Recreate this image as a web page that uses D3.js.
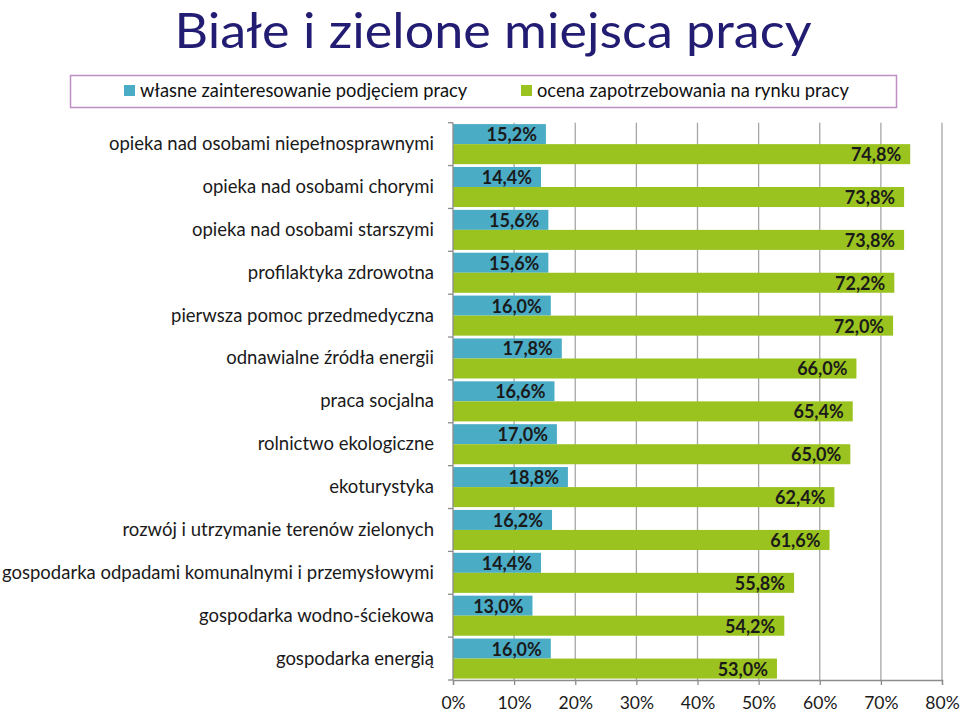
<!DOCTYPE html>
<html>
<head>
<meta charset="utf-8">
<script src="https://cdn.jsdelivr.net/npm/d3@7"></script>
<style>
  body { margin: 0; background: #fff; }
  text { font-family: Lato, "Open Sans", sans-serif; }
</style>
</head>
<body>
<svg id="chart" width="960" height="715"></svg>
<script>
var categories = [
  "opieka nad osobami niepełnosprawnymi",
  "opieka nad osobami chorymi",
  "opieka nad osobami starszymi",
  "profilaktyka zdrowotna",
  "pierwsza pomoc przedmedyczna",
  "odnawialne źródła energii",
  "praca socjalna",
  "rolnictwo ekologiczne",
  "ekoturystyka",
  "rozwój i utrzymanie terenów zielonych",
  "gospodarka odpadami komunalnymi i przemysłowymi",
  "gospodarka wodno-ściekowa",
  "gospodarka energią"
];
var ownInterest = [15.2, 14.4, 15.6, 15.6, 16.0, 17.8, 16.6, 17.0, 18.8, 16.2, 14.4, 13.0, 16.0];
var marketDemand = [74.8, 73.8, 73.8, 72.2, 72.0, 66.0, 65.4, 65.0, 62.4, 61.6, 55.8, 54.2, 53.0];
var seriesNames = ["własne zainteresowanie podjęciem pracy", "ocena zapotrzebowania na rynku pracy"];
var xTicks = [0, 10, 20, 30, 40, 50, 60, 70, 80];

var colors = ["#4bacc6", "#9bc31f"];
var svg = d3.select("#chart");

// title
svg.append("text")
    .attr("x", 493).attr("y", 48)
    .attr("text-anchor", "middle")
    .attr("fill", "#221c72")
    .attr("textLength", 637)
    .attr("lengthAdjust", "spacingAndGlyphs")
    .style("font-size", "48px")
    .text("Białe i zielone miejsca pracy");

// legend
svg.append("rect")
    .attr("x", 70.5).attr("y", 75.5).attr("width", 826).attr("height", 32)
    .attr("fill", "none").attr("stroke", "#c08ec4").attr("stroke-width", 1.5);
var legendX = [124, 521];
seriesNames.forEach(function (name, i) {
  svg.append("rect")
      .attr("x", legendX[i]).attr("y", 85).attr("width", 11).attr("height", 11)
      .attr("fill", colors[i]);
  svg.append("text")
      .attr("x", legendX[i] + 16).attr("y", 97)
      .attr("fill", "#111")
      .style("font-size", "18.3px")
      .text(name);
});

var margin = { left: 453, right: 942, top: 122.7, bottom: 680 };
var x = d3.scaleLinear().domain([0, 80]).range([margin.left, margin.right]);
var y = d3.scaleBand().domain(categories).range([margin.top, margin.bottom]).paddingInner(0).paddingOuter(0);
var inner = d3.scaleBand().domain([0, 1]).range([0, y.bandwidth()]).paddingInner(0).paddingOuter(0.07);

// grid
svg.append("g").selectAll("line")
    .data(xTicks.slice(1))
    .enter().append("line")
    .attr("x1", function (d) { return x(d); })
    .attr("x2", function (d) { return x(d); })
    .attr("y1", margin.top).attr("y2", margin.bottom)
    .attr("stroke", "#a6a6a6").attr("stroke-width", 1.3);

// bars
var groups = svg.append("g").selectAll("g")
    .data(categories)
    .enter().append("g")
    .attr("transform", function (d) { return "translate(0," + y(d) + ")"; });

[ownInterest, marketDemand].forEach(function (vals, s) {
  groups.append("rect")
      .attr("x", x(0))
      .attr("y", inner(s))
      .attr("width", function (d, i) { return x(vals[i]) - x(0); })
      .attr("height", inner.bandwidth())
      .attr("fill", colors[s]);
  groups.append("text")
      .attr("x", function (d, i) { return x(vals[i]) - 9; })
      .attr("y", inner(s) + inner.bandwidth() / 2 + 7)
      .attr("text-anchor", "end")
      .attr("fill", "#1a1a1a")
      .style("font-size", "18px")
      .style("font-weight", "bold")
      .text(function (d, i) { return vals[i].toFixed(1).replace(".", ",") + "%"; });
});

// y axis
var yAxis = svg.append("g").attr("transform", "translate(" + x(0) + ",0)");
yAxis.append("line").attr("y1", margin.top).attr("y2", margin.bottom)
    .attr("stroke", "#8c8c8c").attr("stroke-width", 1.3);
yAxis.selectAll(".tk").data(d3.range(categories.length + 1))
    .enter().append("line")
    .attr("x1", -5).attr("x2", 0)
    .attr("y1", function (i) { return margin.top + i * y.step(); })
    .attr("y2", function (i) { return margin.top + i * y.step(); })
    .attr("stroke", "#8c8c8c").attr("stroke-width", 1.3);
svg.append("g").selectAll("text")
    .data(categories)
    .enter().append("text")
    .attr("x", 434)
    .attr("y", function (d) { return y(d) + y.bandwidth() / 2 + 6; })
    .attr("text-anchor", "end")
    .attr("fill", "#1a1a1a")
    .style("font-size", "18.5px")
    .text(function (d) { return d; });

// x axis
var xAxis = d3.axisBottom(x).tickValues(xTicks).tickSize(5).tickPadding(12)
    .tickFormat(function (d) { return d + "%"; });
var gx = svg.append("g").attr("transform", "translate(0," + margin.bottom + ")").call(xAxis);
gx.select(".domain").attr("stroke", "#8c8c8c").attr("stroke-width", 1.3);
gx.selectAll(".tick line").attr("stroke", "#8c8c8c").attr("stroke-width", 1.3);
gx.selectAll(".tick text")
    .attr("fill", "#1a1a1a")
    .style("font-family", "Lato, 'Open Sans', sans-serif")
    .style("font-size", "17.5px");
</script>
</body>
</html>
